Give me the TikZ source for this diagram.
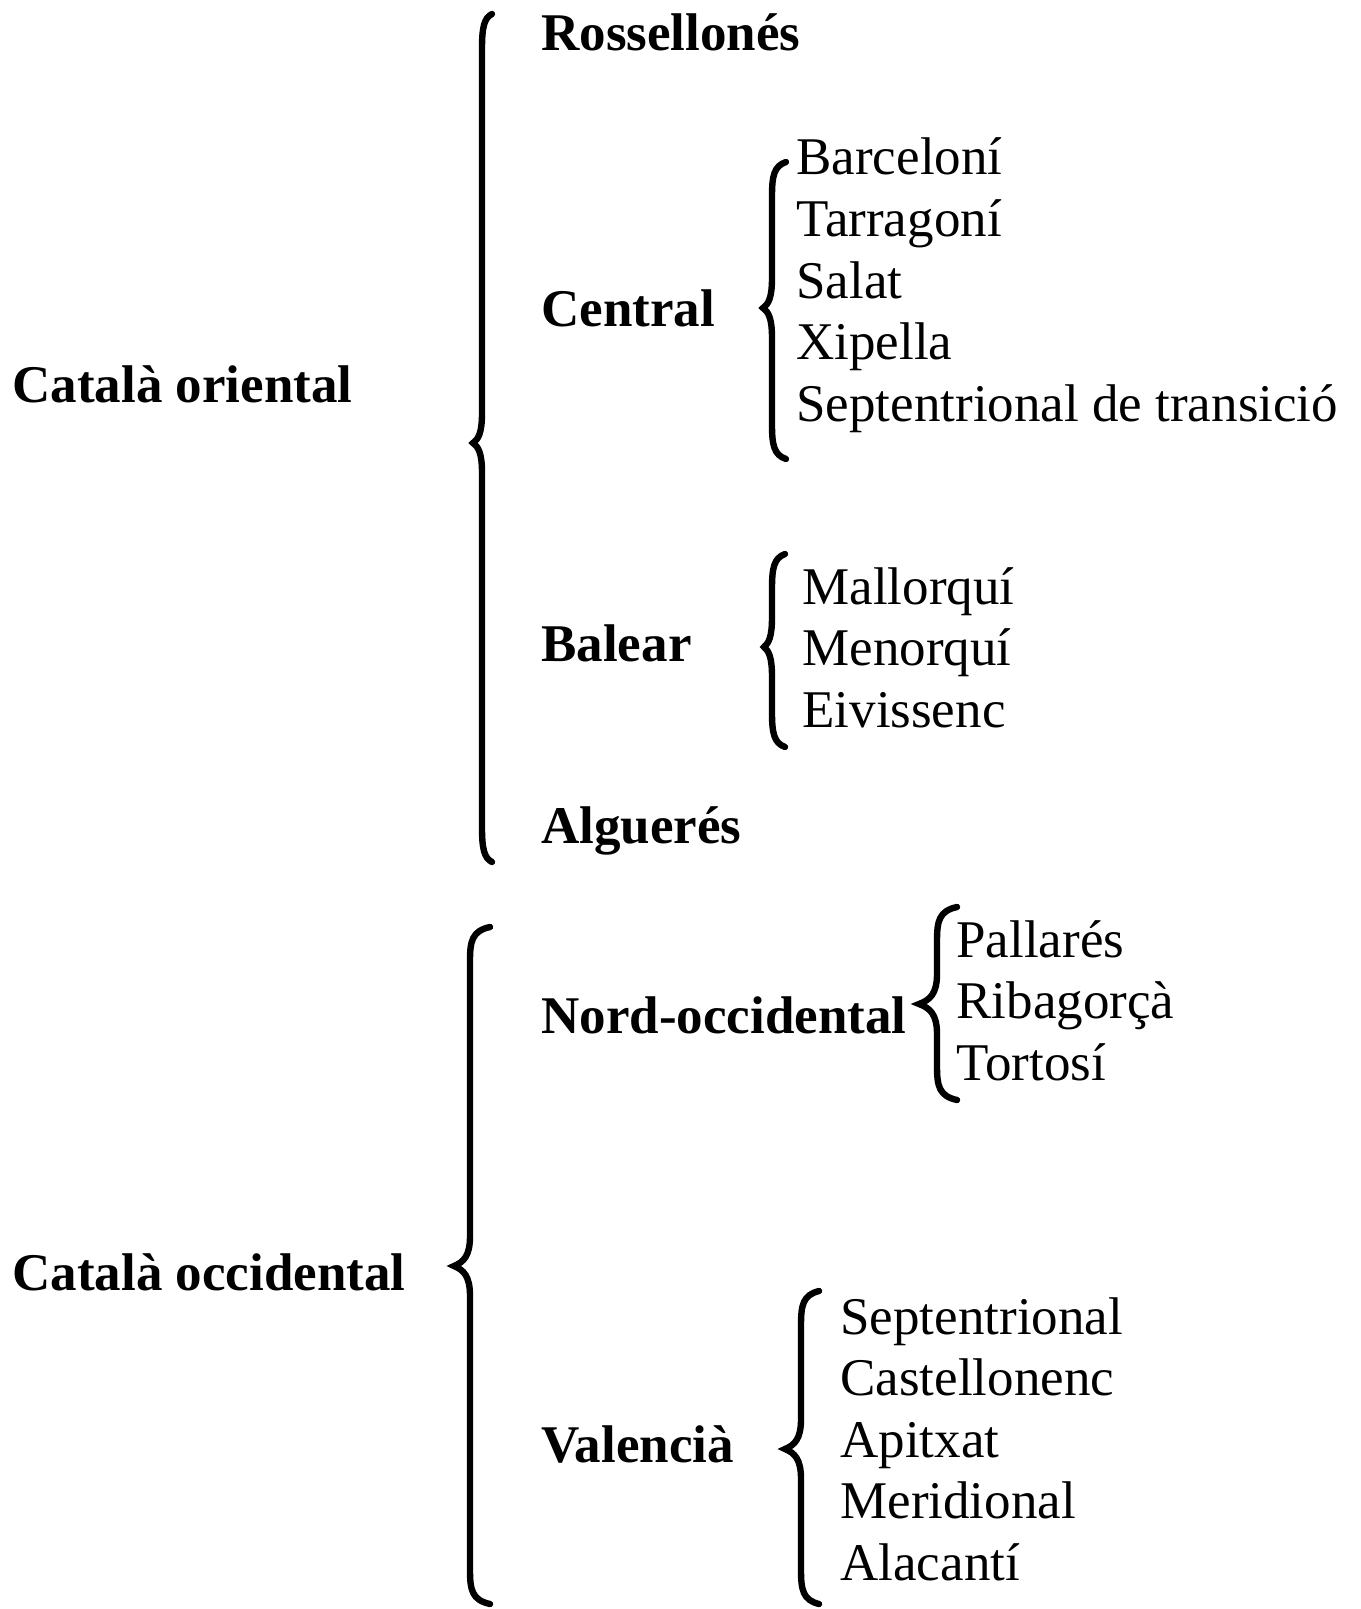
\documentclass[tikz,border=0pt]{standalone}
\usepackage{fontspec}
\setmainfont{Liberation Serif}

\tikzset{
  dialect/.style={anchor=base west, inner sep=0pt, font=\fontsize{26.5}{30}\selectfont},
  group/.style={anchor=base west, inner sep=0pt, font=\fontsize{26.5}{30}\selectfont\bfseries},
  curly/.style={line width=3.2pt, line cap=round, line join=miter}
}
% x, top, cusp, bottom, tip, point
\newcommand{\curlybrace}[6]{%
  \draw[curly] (#1+#5,#2) .. controls (#1+2,#2+4) and (#1,#2+14) .. (#1,#2+34)
    -- (#1,#3-30) .. controls (#1,#3-10) and (#1-#6*0.4,#3-4) .. (#1-#6,#3)
    .. controls (#1-#6*0.4,#3+4) and (#1,#3+10) .. (#1,#3+30)
    -- (#1,#4-34) .. controls (#1,#4-14) and (#1+2,#4-4) .. (#1+#5,#4);
}

\begin{document}
\begin{tikzpicture}[x=0.5pt,y=-0.5pt]
        \useasboundingbox (0,0) rectangle (1360,1609);
        % main groups
        \node[group] (orient) at (12,402) {Català oriental};
        \node[group] (occid) at (12,1290) {Català occidental};
        % oriental
        \node[group] (ross) at (541,51) {Rossellonés};
        \node[group] (centr) at (541,327) {Central};
        \node[group] (bal) at (541,661) {Balear};
        \node[group] (alg) at (541,843) {Alguerés};
        \node[dialect] (barc) at (796,175) {Barceloní};
        \node[dialect] (tarr) at (796,236.6) {Tarragoní};
        \node[dialect] (sal) at (796,298.2) {Salat};
        \node[dialect] (xip) at (796,359.8) {Xipella};
        \node[dialect] (septr) at (796,421.4) {Septentrional de transició};
        \node[dialect] (mall) at (802,604) {Mallorquí};
        \node[dialect] (men) at (802,665.6) {Menorquí};
        \node[dialect] (eiv) at (802,727.2) {Eivissenc};
        % occidental
        \node[group] (nord) at (541,1033) {Nord-occidental};
        \node[group] (val) at (541,1462) {Valencià};
        \node[dialect] (pall) at (956,957) {Pallarés};
        \node[dialect] (rib) at (956,1018.6) {Ribagorçà};
        \node[dialect] (tort) at (956,1080.2) {Tortosí};
        \node[dialect] (sept) at (840,1334) {Septentrional};
        \node[dialect] (cast) at (840,1395.6) {Castellonenc};
        \node[dialect] (apit) at (840,1457.2) {Apitxat};
        \node[dialect] (mer) at (840,1518.8) {Meridional};
        \node[dialect] (alac) at (840,1580.4) {Alacantí};
        % braces
        \curlybrace{482}{14}{443}{862}{10}{9}
        \curlybrace{772}{162}{308}{459}{14}{9}
        \curlybrace{772}{554}{647}{747}{13}{8}
        \curlybrace{470}{927}{1266}{1604}{20}{16}
        \curlybrace{937}{907}{1004}{1100}{20}{18}
        \curlybrace{801}{1291}{1449}{1604}{18}{16}
    \end{tikzpicture}
\end{document}
